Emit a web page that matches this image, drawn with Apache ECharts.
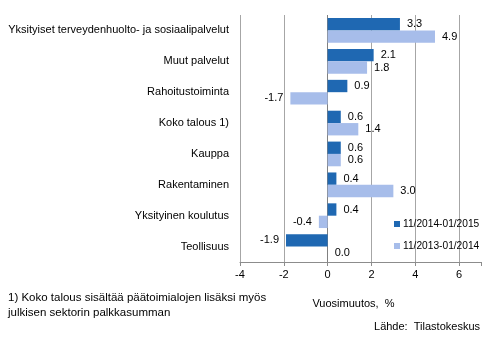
<!DOCTYPE html>
<html>
<head>
<meta charset="utf-8">
<script src="https://cdn.jsdelivr.net/npm/echarts@6/dist/echarts.min.js"></script>
<style>
  html, body { margin: 0; padding: 0; background: #fff; }
  #chart { width: 494px; height: 339px; }
</style>
</head>
<body>
<div id="chart"></div>
<script>
// Industries, listed top to bottom
const categories = [
  'Yksityiset terveydenhuolto- ja sosiaalipalvelut',
  'Muut palvelut',
  'Rahoitustoiminta',
  'Koko talous 1)',
  'Kauppa',
  'Rakentaminen',
  'Yksityinen koulutus',
  'Teollisuus'
];
const seriesNames = ['11/2014-01/2015', '11/2013-01/2014'];
const valuesRecent = [3.3, 2.1, 0.9, 0.6, 0.6, 0.4, 0.4, -1.9];
const valuesPrevious = [4.9, 1.8, -1.7, 1.4, 0.6, 3.0, -0.4, 0.0];
const xTicks = [-4, -2, 0, 2, 4, 6];

const FONT = 'Liberation Sans, Arial, sans-serif';

function valueLabels(values) {
  return values.map(v => ({
    value: v,
    label: { position: v < 0 ? 'left' : 'right' }
  }));
}

const labelStyle = {
  show: true,
  distance: 7,
  fontFamily: FONT,
  fontSize: 11,
  color: '#000',
  formatter: p => p.value.toFixed(1)
};

const chart = echarts.init(document.getElementById('chart'), null, { renderer: 'canvas' });

chart.setOption({
  animation: false,
  textStyle: { fontFamily: FONT },
  grid: { left: 240, right: 13, top: 15, bottom: 77, containLabel: false },
  legend: {
    orient: 'vertical',
    left: 389,
    top: 214,
    itemWidth: 6,
    itemHeight: 6,
    itemGap: 12,
    icon: 'rect',
    textStyle: { fontFamily: FONT, fontSize: 10.2, color: '#000', padding: [0, 0, 0, -2] },
    data: seriesNames
  },
  xAxis: {
    type: 'value',
    min: -4,
    max: 7,
    interval: 2,
    name: 'Vuosimuutos,  %',
    nameLocation: 'middle',
    nameGap: 36,
    nameTextStyle: { fontFamily: FONT, fontSize: 11, color: '#000', padding: [0, 0, 0, -14] },
    axisLine: { show: true, onZero: false, lineStyle: { color: '#8c8c8c', width: 1 } },
    axisTick: { show: true, length: 4, lineStyle: { color: '#8c8c8c' } },
    axisLabel: {
      fontFamily: FONT, fontSize: 11, color: '#000', margin: 7,
      formatter: v => (xTicks.indexOf(v) >= 0 ? String(v) : '')
    },
    splitLine: {
      show: true,
      showMaxLine: false,
      lineStyle: { color: '#a6a6a6', width: 1, type: 'solid' }
    }
  },
  yAxis: {
    type: 'category',
    inverse: true,
    data: categories,
    axisLine: { show: false, onZero: false },
    axisTick: { show: false },
    splitLine: { show: false },
    axisLabel: { fontFamily: FONT, fontSize: 11, color: '#000', margin: 11 }
  },
  series: [
    {
      name: seriesNames[0],
      type: 'bar',
      data: valueLabels(valuesRecent),
      barGap: '0%',
      barCategoryGap: '20%',
      itemStyle: { color: '#1f68b2' },
      label: labelStyle,
      // darker line along zero, behind the bars
      markLine: {
        silent: true,
        symbol: 'none',
        z: 1,
        label: { show: false },
        lineStyle: { color: '#808080', width: 1, type: 'solid' },
        data: [{ xAxis: 0 }]
      }
    },
    {
      name: seriesNames[1],
      type: 'bar',
      data: valueLabels(valuesPrevious),
      barGap: '0%',
      barCategoryGap: '20%',
      itemStyle: { color: '#a7bdea' },
      label: labelStyle
    }
  ],
  graphic: [
    {
      type: 'text',
      left: 8,
      top: 290,
      style: {
        text: '1) Koko talous sisältää päätoimialojen lisäksi myös\njulkisen sektorin palkkasumman',
        fontFamily: FONT,
        fontSize: 11.5,
        lineHeight: 15,
        fill: '#000'
      }
    },
    {
      type: 'text',
      right: 14,
      top: 321,
      style: {
        text: 'Lähde:  Tilastokeskus',
        fontFamily: FONT,
        fontSize: 11,
        fill: '#000'
      }
    }
  ]
});
</script>
</body>
</html>
